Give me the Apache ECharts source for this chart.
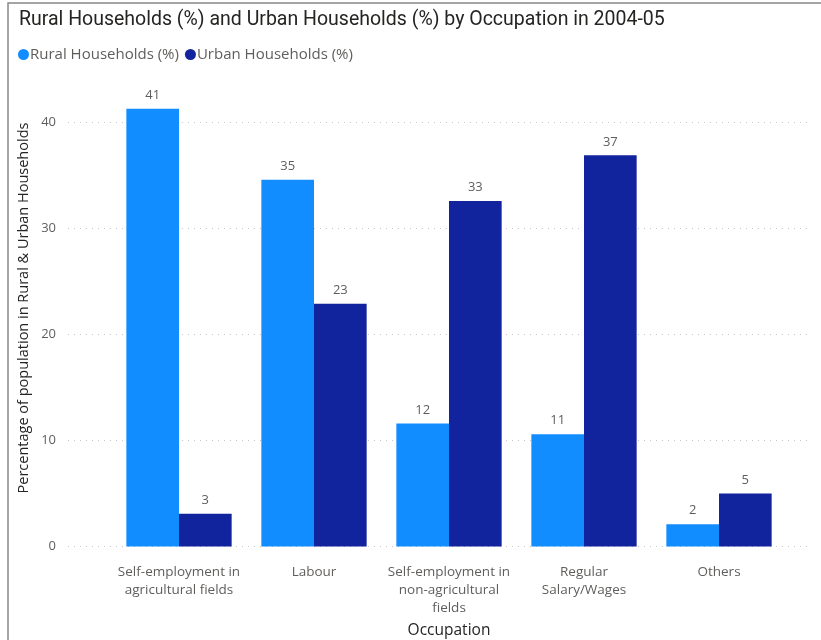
<!DOCTYPE html>
<html>
<head>
<meta charset="utf-8">
<script src="https://cdn.jsdelivr.net/npm/echarts@6/dist/echarts.min.js"></script>
<style>
  html, body { margin: 0; padding: 0; background: #ffffff; }
  #chart { width: 821px; height: 640px; }
</style>
</head>
<body>
<div id="chart"></div>
<script>
// Occupation categories (x axis)
var categories = [
  'Self-employment in\nagricultural fields',
  'Labour',
  'Self-employment in\nnon-agricultural\nfields',
  'Regular\nSalary/Wages',
  'Others'
];
// Share of households by occupation, 2004-05
var ruralHouseholds = [41.3, 34.6, 11.6, 10.6, 2.1];
var urbanHouseholds = [3.1, 22.9, 32.6, 36.9, 5.0];
// Value-axis ticks
var yTicks = [0, 10, 20, 30, 40];

var seriesNames = ['Rural Households (%)', 'Urban Households (%)'];
var RURAL = '#118DFF';
var URBAN = '#12239E';
var FONT = '"Open Sans", "Noto Sans", sans-serif';

var chart = echarts.init(document.getElementById('chart'), null, { renderer: 'canvas' });

var tickStep = yTicks[1] - yTicks[0];
var tickMax = yTicks[yTicks.length - 1];

var barLabel = {
  show: true,
  position: 'top',
  distance: 7,
  color: '#605E5C',
  fontSize: 13,
  fontFamily: FONT,
  formatter: function (p) { return Math.round(p.value); }
};

chart.setOption({
  animation: false,
  textStyle: { fontFamily: FONT },
  title: {
    text: 'Rural Households (%) and Urban Households (%) by Occupation in 2004-05',
    left: 14,
    top: 5,
    textStyle: { fontSize: 19.5, fontWeight: 'normal', color: '#252423', fontFamily: 'Roboto, sans-serif' }
  },
  legend: {
    data: seriesNames,
    left: 13,
    top: 42,
    icon: 'circle',
    itemWidth: 11,
    itemHeight: 11,
    itemGap: 6,
    textStyle: { fontSize: 15, color: '#605E5C', padding: [0, 0, 0, -4] }
  },
  graphic: [{
    type: 'rect',
    shape: { x: 8, y: 3, width: 830, height: 660 },
    style: { fill: 'none', stroke: '#8A8886', lineWidth: 1.5 },
    silent: true
  }],
  grid: [
    // gridlines + tick labels
    { left: 68, right: 14, top: 122.5, bottom: 93.5, outerBoundsMode: 'none', containLabel: false },
    // bars
    { left: 111.5, right: 34.5, top: 69.5, bottom: 93.5, outerBoundsMode: 'none', containLabel: false }
  ],
  xAxis: [
    { gridIndex: 0, type: 'value', min: 0, max: 1, show: false },
    {
      gridIndex: 1,
      type: 'category',
      data: categories,
      axisLine: { show: false },
      axisTick: { show: false },
      axisLabel: {
        interval: 0,
        margin: 17,
        color: '#605E5C',
        fontSize: 13.5,
        lineHeight: 18
      },
      name: 'Occupation',
      nameLocation: 'middle',
      nameGap: 74,
      nameTextStyle: { fontSize: 15.5, color: '#252423' }
    }
  ],
  yAxis: [
    {
      gridIndex: 0,
      type: 'value',
      min: 0,
      max: tickMax,
      interval: tickStep,
      axisLine: { show: false },
      axisTick: { show: false },
      axisLabel: { color: '#605E5C', fontSize: 13, margin: 12 },
      splitLine: { show: true, lineStyle: { color: '#C8C6C4', type: [1, 5], width: 1 } }
    },
    {
      gridIndex: 1,
      type: 'value',
      min: 0,
      max: 45,
      axisLine: { show: false },
      axisTick: { show: false },
      axisLabel: { show: false },
      splitLine: { show: false },
      name: 'Percentage of population in Rural & Urban Households',
      nameLocation: 'middle',
      nameGap: 80,
      nameRotate: 90,
      nameTextStyle: { fontSize: 14.5, color: '#252423' }
    }
  ],
  series: [
    {
      name: seriesNames[0],
      type: 'bar',
      xAxisIndex: 1,
      yAxisIndex: 1,
      data: ruralHouseholds,
      itemStyle: { color: RURAL },
      barGap: '0%',
      barCategoryGap: '22%',
      label: barLabel
    },
    {
      name: seriesNames[1],
      type: 'bar',
      xAxisIndex: 1,
      yAxisIndex: 1,
      data: urbanHouseholds,
      itemStyle: { color: URBAN },
      barGap: '0%',
      barCategoryGap: '22%',
      label: barLabel
    }
  ]
});
</script>
</body>
</html>
